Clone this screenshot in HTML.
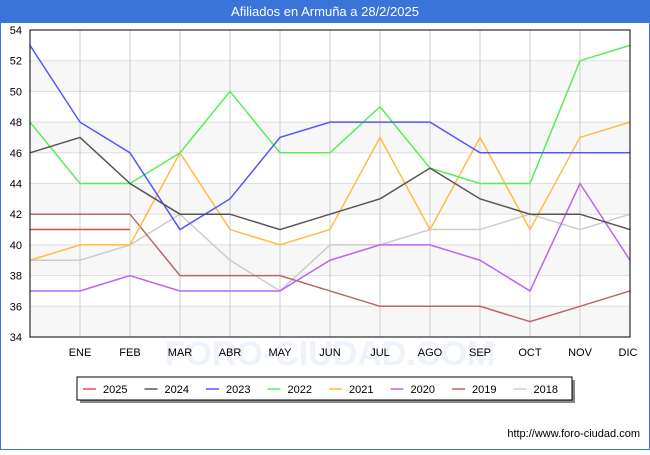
<!DOCTYPE html>
<html><head><meta charset="utf-8"><style>
body{margin:0;width:650px;height:450px;background:#fff;font-family:"Liberation Sans",sans-serif;overflow:hidden}
</style></head><body>
<svg width="650" height="450" xmlns="http://www.w3.org/2000/svg" font-family="Liberation Sans, sans-serif">
<rect x="0" y="0" width="650" height="22" fill="#3a74d9"/>
<text x="325" y="16" text-anchor="middle" font-size="13" fill="#fff">Afiliados en Armuña a 28/2/2025</text>
<rect x="0" y="22" width="650" height="428" fill="none" stroke="#3a74d9" stroke-width="2"/>
<g id="bands"></g><g id="grid"></g>
<text x="330" y="365" text-anchor="middle" font-size="34" fill="#eef2fa" font-weight="bold">FORO-CIUDAD.COM</text>
<g id="series"></g>
<rect x="30" y="30" width="600" height="307" fill="none" stroke="#000"/>
<g id="labels"></g>
<g>
<rect x="80" y="380" width="495" height="23" fill="#888"/>
<rect x="77" y="377" width="495" height="23" fill="#fff" stroke="#000"/>
<g id="legend"></g></g>
<text x="640" y="437" text-anchor="end" font-size="11" fill="#000">http://www.foro-ciudad.com</text>
</svg>
<script>
const months=["","ENE","FEB","MAR","ABR","MAY","JUN","JUL","AGO","SEP","OCT","NOV","DIC"];
const yTicks=[34,36,38,40,42,44,46,48,50,52,54];
const names=["2025","2024","2023","2022","2021","2020","2019","2018"];
const colors=["#ff4444","#555555","#5555ff","#55ee55","#ffbb44","#bb66ee","#bb6666","#cccccc"];
const s2025=[41,41,41];
const s2024=[46,47,44,42,42,41,42,43,45,43,42,42,41];
const s2023=[53,48,46,41,43,47,48,48,48,46,46,46,46];
const s2022=[48,44,44,46,50,46,46,49,45,44,44,52,53];
const s2021=[39,40,40,46,41,40,41,47,41,47,41,47,48];
const s2020=[37,37,38,37,37,37,39,40,40,39,37,44,39];
const s2019=[42,42,42,38,38,38,37,36,36,36,35,36,37];
const s2018=[39,39,40,42,39,37,40,40,41,41,42,41,42];
const series=[s2025,s2024,s2023,s2022,s2021,s2020,s2019,s2018];
const NS="http://www.w3.org/2000/svg";
const X=i=>30+i*50, Y=v=>337-(v-34)*307/20;
function mk(t,a,p){const e=document.createElementNS(NS,t);for(const k in a)e.setAttribute(k,a[k]);p.appendChild(e);return e;}
const bands=document.getElementById('bands'),grid=document.getElementById('grid'),lab=document.getElementById('labels');
for(let v=34;v<54;v+=2){if(((v-34)/2)%2===0){const r=mk('rect',{x:30,y:Y(v+2),width:600,height:Y(v)-Y(v+2),fill:'#f7f7f7'},bands);

}}
yTicks.forEach(v=>{const l=mk('line',{x1:30,x2:630,y1:Y(v),y2:Y(v),stroke:'#ddd'},grid);


const t=mk('text',{x:22,y:Y(v)+4,'text-anchor':'end','font-size':11},lab);t.textContent=v;

});
months.forEach((m,i)=>{if(i>0&&i<12){const l=mk('line',{x1:X(i),x2:X(i),y1:30,y2:337,stroke:'#ccc'},grid);

}
if(m){const t=mk('text',{x:i===12?X(i)-2:X(i),y:356,'text-anchor':'middle','font-size':11},lab);t.textContent=m;

}});
const sg=document.getElementById('series');
for(let k=series.length-1;k>=0;k--){const p=mk('polyline',{points:series[k].map((v,i)=>X(i)+','+Y(v)).join(' '),fill:'none',stroke:colors[k],'stroke-width':1.5},sg);

}
const lg=document.getElementById('legend');
names.forEach((n,k)=>{const x0=83+k*61.5;
const l=mk('line',{x1:x0,x2:x0+13,y1:389,y2:389,stroke:colors[k],'stroke-width':1.5},lg);


const t=mk('text',{x:x0+20,y:393,'font-size':11},lg);t.textContent=n;

});
</script>
</body></html>
